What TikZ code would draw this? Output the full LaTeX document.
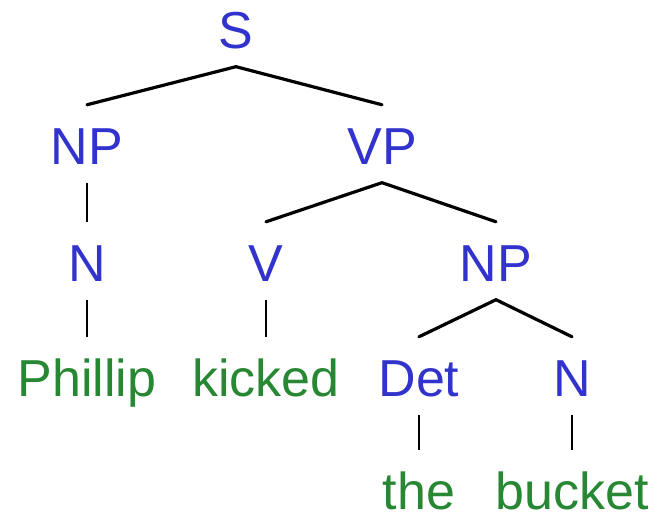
\documentclass[tikz,border=0pt]{standalone}
\usepackage{fontspec}
\setmainfont{Liberation Sans}
\definecolor{catblue}{RGB}{50,50,205}
\definecolor{wordgreen}{RGB}{40,135,50}
\tikzset{
  lbl/.style={anchor=base, inner sep=0pt, text height=60pt, text depth=17.5pt,
    font=\fontsize{52}{60}\selectfont},
  cat/.style={lbl, text=catblue},
  word/.style={lbl, text=wordgreen},
  leaf/.style={word, text depth=0pt},
  branch/.style={draw=black, line width=3.2pt, line cap=round},
  stem/.style={draw=black, line width=2.2pt}
}
\begin{document}
\begin{tikzpicture}[x=1pt,y=1pt]
\useasboundingbox (0,0) rectangle (662,518);
% categories (baselines measured from the top edge)
\node[cat] (S)   at (236,518-49) {S};
\node[cat] (NP1) at (87,518-165) {NP};
\node[cat] (VP)  at (382,518-165) {VP};
\node[cat] (N1)  at (87,518-282) {N};
\node[cat] (V)   at (266,518-282) {V};
\node[cat] (NP2) at (496,518-282) {NP};
\node[word] (w1) at (87,518-397) {Phillip};
\node[word] (w2) at (266,518-397) {kicked};
\node[cat] (Det) at (419,518-397) {Det};
\node[cat] (N2)  at (572,518-397) {N};
\node[leaf] (w3) at (419,518-510) {the};
\node[leaf] (w4) at (572,518-510) {bucket};
% branches
\draw[branch] (NP1.north) -- (S.south) -- (VP.north);
\draw[branch] (V.north) -- (VP.south) -- (NP2.north);
\draw[branch] (Det.north) -- (NP2.south) -- (N2.north);
% unary stems
\draw[stem] (NP1.south) -- (N1.north);
\draw[stem] (N1.south) -- (w1.north);
\draw[stem] (V.south) -- (w2.north);
\draw[stem] (Det.south) -- (w3.north);
\draw[stem] (N2.south) -- (w4.north);
\end{tikzpicture}
\end{document}
